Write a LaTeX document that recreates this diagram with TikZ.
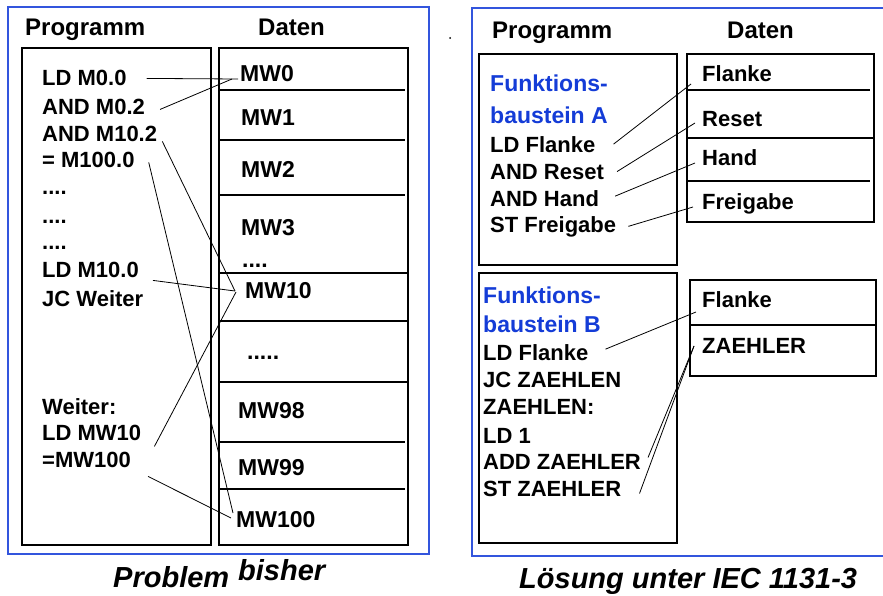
\documentclass[tikz,border=0pt]{standalone}
\usepackage{fontspec}
\setmainfont{Liberation Sans}
\definecolor{frameblue}{RGB}{51,85,221}
\definecolor{textblue}{RGB}{20,60,215}
\begin{document}
\begin{tikzpicture}
  [
    x=1pt, y=-1pt,
    inner sep=0mm,
    frame/.style={draw=frameblue,line width=1.6pt},
    box/.style={draw=black,line width=1.6pt},
    divider/.style={draw=black,line width=1.2pt},
    link/.style={draw=black,line width=0.8pt},
    header/.style={anchor=base west,font=\fontsize{24}{28}\selectfont\bfseries},
    code/.style={anchor=base west,font=\fontsize{22}{26}\selectfont\bfseries},
    word/.style={anchor=base west,font=\fontsize{23}{27}\selectfont\bfseries},
    fbname/.style={anchor=base west,text=textblue,font=\fontsize{23}{27}\selectfont\bfseries},
    caption/.style={anchor=base west,font=\fontsize{29}{33}\selectfont\bfseries\itshape},
  ]
  \useasboundingbox (0,0) rectangle (883,596);

  % left half: Problem bisher
  \draw[frame] (8,7) rectangle (429,554);
  \node[header] (progl)  at ( 25,36) {Programm};
  \node[header] (datenl) at (258,36) {Daten};
  \draw[box] (22,48) rectangle (211,545);
  \draw[box] (219,48) rectangle (408,545);
  \foreach \y in {90,140,195,442,489}
    \draw[divider] (219,\y) -- (405,\y);
  \foreach \y in {273,321,382}
    \draw[divider] (219,\y) -- (408,\y);

  \node[code] (ldmzero)  at (42, 86) {LD M0.0};
  \node[code] (andmzero) at (42,115) {AND M0.2};
  \node[code] (andmten)  at (42,142) {AND M10.2};
  \node[code] (setm)     at (42,168) {= M100.0};
  \node[code] (dotsa)    at (42,195) {....};
  \node[code] (dotsb)    at (42,223) {....};
  \node[code] (dotsc)    at (42,249) {....};
  \node[code] (ldmten)   at (42,277) {LD M10.0};
  \node[code] (jcweiter) at (42,306) {JC Weiter};
  \node[code] (weiter)   at (42,414) {Weiter:};
  \node[code] (ldmwten)  at (42,440) {LD MW10};
  \node[code] (setmw)    at (42,467) {=MW100};

  \node[word] (mw0)    at (240, 82) {MW0};
  \node[word] (mw1)    at (241,126) {MW1};
  \node[word] (mw2)    at (241,178) {MW2};
  \node[word] (mw3)    at (241,235) {MW3};
  \node[word] (mwdots) at (242,267) {....};
  \node[word] (mw10)   at (245,298) {MW10};
  \node[word] (mwgap)  at (247,359) {.....};
  \node[word] (mw98)   at (238,418) {MW98};
  \node[word] (mw99)   at (238,475) {MW99};
  \node[word] (mw100)  at (236,527) {MW100};

  \draw[link] ([xshift=20pt]ldmzero.east) -- ([shift={(-2pt,3pt)}]mw0.base west);
  \draw[link] ([xshift=15pt,yshift=-2pt]andmzero.east) -- ([shift={(-8pt,3pt)}]mw0.base west);
  \draw[link] ([xshift=5pt,yshift=1pt]andmten.south east) -- ([shift={(-10pt,7pt)}]mw10.base west);
  \draw[link] ([xshift=14pt,yshift=-2pt]setm.east) -- ([shift={(-3pt,14pt)}]mw100.base west);
  \draw[link] ([xshift=14pt,yshift=-3pt]ldmten.south east) -- ([shift={(-10pt,7pt)}]mw10.base west);
  \draw[link] ([xshift=13pt,yshift=-6pt]ldmwten.south east) -- ([shift={(-9pt,6pt)}]mw10.base west);
  \draw[link] ([xshift=17pt,yshift=-9pt]setmw.south east) -- ([shift={(-5pt,9pt)}]mw100.base west);

  \node[caption] (problem) at (113,587) {Problem};
  \node[caption] (bisher)  at (238,580) {bisher};

  % right half: Loesung unter IEC 1131-3
  \fill (450,38) circle (1);
  \draw[frame] (890,8) -- (472,8) -- (472,556) -- (890,556);
  \node[header] (progr)  at (492,39) {Programm};
  \node[header] (datenr) at (727,39) {Daten};

  \draw[box] (479,54) rectangle (677,265);
  \draw[box] (687,54) rectangle (874,222);
  \draw[divider] (687, 90) -- (870, 90);
  \draw[divider] (687,138) -- (874,138);
  \draw[divider] (687,181) -- (870,181);

  \node[fbname] (fbaa)       at (490, 92) {Funktions-};
  \node[fbname] (fbab)       at (490,124) {baustein A};
  \node[code]   (aldflanke)  at (490,153) {LD Flanke};
  \node[code]   (andreset)   at (490,180) {AND Reset};
  \node[code]   (andhand)    at (490,207) {AND Hand};
  \node[code]   (stfreigabe) at (490,233) {ST Freigabe};

  \node[code] (aflanke)   at (702, 82) {Flanke};
  \node[code] (areset)    at (702,127) {Reset};
  \node[code] (ahand)     at (702,166) {Hand};
  \node[code] (afreigabe) at (702,209) {Freigabe};

  \draw[link] ([xshift=18pt,yshift=1pt]aldflanke.east) -- ([shift={(-11pt,-2pt)}]aflanke.base west);
  \draw[link] ([xshift=13pt,yshift=1pt]andreset.east) -- ([shift={(-7pt,4pt)}]areset.base west);
  \draw[link] ([xshift=16pt,yshift=3pt]andhand.east) -- ([shift={(-7pt,3pt)}]ahand.base west);
  \draw[link] ([xshift=12pt,yshift=1pt]stfreigabe.east) -- ([shift={(-9pt,2pt)}]afreigabe.base west);

  \draw[box] (479,273) rectangle (677,543);
  \draw[box] (690,280) rectangle (876,376);
  \draw[divider] (690,325) -- (876,325);

  \node[fbname] (fbba)       at (483,303) {Funktions-};
  \node[fbname] (fbbb)       at (483,332) {baustein B};
  \node[code]   (bldflanke)  at (483,360) {LD Flanke};
  \node[code]   (jczaehlen)  at (483,387) {JC ZAEHLEN};
  \node[code]   (zaehlen)    at (483,414) {ZAEHLEN:};
  \node[code]   (ldone)      at (483,443) {LD 1};
  \node[code]   (addzaehler) at (483,469) {ADD ZAEHLER};
  \node[code]   (stzaehler)  at (483,496) {ST ZAEHLER};

  \node[code] (bflanke)  at (702,307) {Flanke};
  \node[code] (bzaehler) at (702,353) {ZAEHLER};

  \draw[link] ([xshift=17pt,yshift=3pt]bldflanke.east) -- ([shift={(-6pt,-5pt)}]bflanke.base west);
  \draw[link] ([xshift=7pt,yshift=4pt]addzaehler.east) -- ([shift={(-8pt,7pt)}]bzaehler.base west);
  \draw[link] ([xshift=18pt,yshift=-5pt]stzaehler.east) -- ([shift={(-8pt,7pt)}]bzaehler.base west);

  \node[caption] (loesung) at (519,588) {Lösung unter IEC 1131-3};
\end{tikzpicture}
\end{document}
